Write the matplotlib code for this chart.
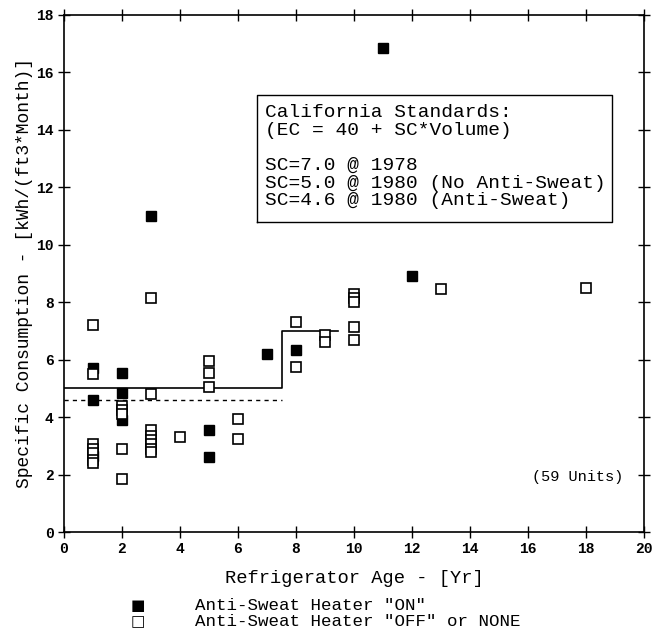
import matplotlib
matplotlib.use("Agg")
import matplotlib.pyplot as plt

FONT = "Liberation Mono"

# Data (Refrigerator age [yr], specific consumption [kWh/(ft3*Month)])
on_age = [1, 1, 1, 2, 2, 2, 3, 5, 5, 7, 8, 11, 12]
on_sc = [5.7, 4.6, 2.65, 5.55, 4.85, 3.9, 11.0, 3.55, 2.6, 6.2, 6.35, 16.85, 8.9]

off_age = [1, 1, 1, 1, 1, 1, 1,
           2, 2, 2, 2, 2,
           3, 3, 3, 3, 3, 3, 3, 3,
           4, 5, 5, 5, 6, 6, 8, 8, 9, 9,
           10, 10, 10, 10, 10, 13, 18]
off_sc = [7.2, 5.5, 3.05, 2.9, 2.75, 2.5, 2.4,
          4.4, 4.25, 4.1, 2.9, 1.85,
          8.15, 4.8, 3.55, 3.35, 3.2, 3.05, 2.9, 2.8,
          3.3, 5.95, 5.55, 5.05, 3.95, 3.25, 7.3, 5.75, 6.85, 6.6,
          8.3, 8.15, 8.0, 7.15, 6.7, 8.45, 8.5]

# Standards
std_x = [0, 7.5, 7.5, 9.45]
std_y = [5.0, 5.0, 7.0, 7.0]
anti_x = [0, 7.5]
anti_y = [4.6, 4.6]

xticks = list(range(0, 21, 2))
yticks = list(range(0, 19, 2))

box_lines = ["California Standards:",
             "(EC = 40 + SC*Volume)",
             "",
             "SC=7.0 @ 1978",
             "SC=5.0 @ 1980 (No Anti-Sweat)",
             "SC=4.6 @ 1980 (Anti-Sweat)"]

fig = plt.figure(figsize=(6.54, 6.44), dpi=100)
ax = fig.add_axes([64/654, 1-532/644, (644-64)/654, (532-15)/644])

ax.plot(std_x, std_y, color="black", lw=1.2)
ax.plot(anti_x, anti_y, color="black", lw=1.0, ls=(0, (3, 3)))

ax.plot(on_age, on_sc, ls="none", marker="s", ms=6.5, mfc="black", mec="black")
ax.plot(off_age, off_sc, ls="none", marker="s", ms=6.5, mfc="white", mec="black", mew=1.2)

ax.set_xlim(0, 20)
ax.set_ylim(0, 18)
ax.set_xticks(xticks)
ax.set_yticks(yticks)
ax.tick_params(direction="inout", length=8, width=1, top=True, right=True,
               labeltop=False, labelright=False)
for lab in ax.get_xticklabels() + ax.get_yticklabels():
    lab.set_fontfamily(FONT)
    lab.set_fontsize(10.5)
    lab.set_fontweight("bold")
for s in ax.spines.values():
    s.set_linewidth(1.2)

ax.set_xlabel("Refrigerator Age - [Yr]", fontfamily=FONT, fontsize=13.5, labelpad=10)
ax.set_ylabel("Specific Consumption - [kWh/(ft3*Month)]", fontfamily=FONT, fontsize=13, labelpad=2)

# Text box
bx0, bx1, by0, by1 = 6.66, 18.9, 10.8, 15.2
ax.plot([bx0, bx1, bx1, bx0, bx0], [by0, by0, by1, by1, by0], color="black", lw=1.0)
for i, line in enumerate(box_lines):
    ax.text(6.93, 14.6 - i * 0.615, line, fontfamily=FONT, fontsize=14,
            va="center", ha="left")

ax.text(17.7, 1.9, "(59 Units)", fontfamily=FONT, fontsize=11, ha="center", va="center")

# Legend below the axes
fig.text(138/654, 1-605/644, "\u25a0", fontsize=11, ha="center", va="center", fontfamily="DejaVu Sans")
fig.text(138/654, 1-622/644, "\u25a1", fontsize=11, ha="center", va="center", fontfamily="DejaVu Sans")
fig.text(195/654, 1-605/644, 'Anti-Sweat Heater "ON"', fontfamily=FONT, fontsize=12.6, va="center")
fig.text(195/654, 1-622/644, 'Anti-Sweat Heater "OFF" or NONE', fontfamily=FONT, fontsize=12.6, va="center")

fig.savefig("out.png", dpi=100)
